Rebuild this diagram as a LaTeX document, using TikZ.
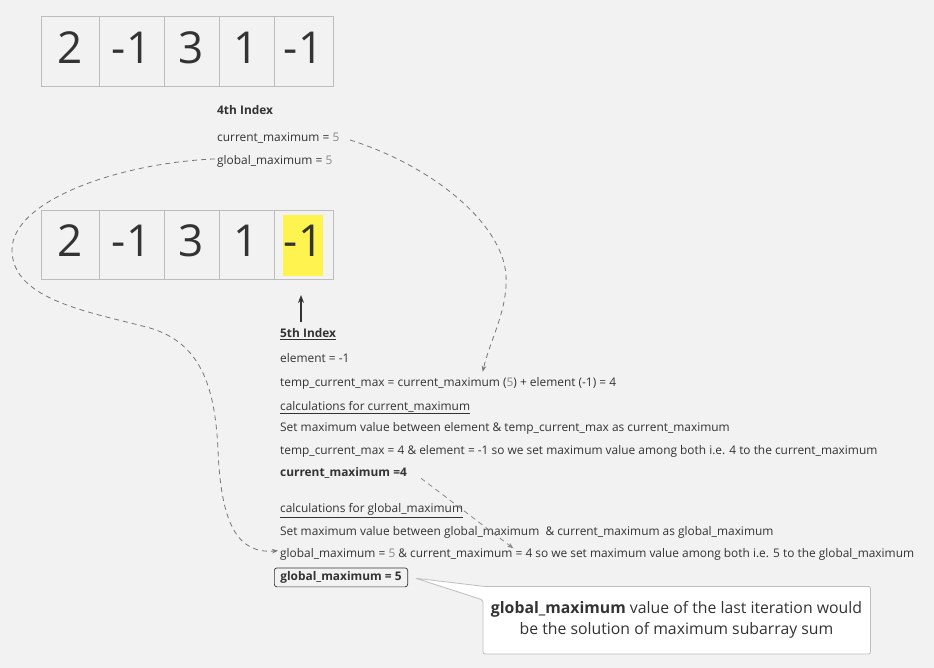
\documentclass[tikz,border=0pt]{standalone}
\usepackage{fontspec}
\setmainfont{Open Sans}
\usetikzlibrary{arrows.meta,calc}
\definecolor{bg}{HTML}{F2F2F2}
\definecolor{cellc}{HTML}{BDBDBD}
\definecolor{txtc}{HTML}{333333}
\definecolor{valc}{HTML}{888888}
\definecolor{dashc}{HTML}{777777}
\definecolor{hl}{HTML}{FFF44F}
\begin{document}
\begin{tikzpicture}[x=1pt,y=-1pt,
  cell/.style={draw=cellc, line width=0.9pt, inner sep=0pt, minimum height=#1, text depth=6pt, font=\fontsize{44}{50}\selectfont, text=txtc},
  cell/.default=70pt,
  txt/.style={anchor=base west, inner sep=0pt, font=\fontsize{11.9}{14}\selectfont, text=txtc},
  conn/.style={draw=dashc, line width=0.8pt, dash pattern=on 5pt off 4pt, -{Stealth[length=6pt,width=4.5pt]}},
  callout/.style={draw=cellc, fill=white, line width=0.8pt, rounded corners=2pt}
]
\useasboundingbox[fill=bg] (0,0) rectangle (934,668);
% top array
\node[cell, minimum width=58pt] (t1) at (70,51) {2};
\node[cell, minimum width=65pt] (t2) at (131.5,51) {-1};
\node[cell, minimum width=55pt] (t3) at (191.5,51) {3};
\node[cell, minimum width=55pt] (t4) at (246.5,51) {1};
\node[cell, minimum width=59pt] (t5) at (303.5,51) {-1};
% bottom array
\fill[hl] (283,215) rectangle (323,276);
\node[cell=69pt, minimum width=58pt, text depth=8pt] (b1) at (70,245) {2};
\node[cell=69pt, minimum width=65pt, text depth=8pt] (b2) at (131.5,245) {-1};
\node[cell=69pt, minimum width=55pt, text depth=8pt] (b3) at (191.5,245) {3};
\node[cell=69pt, minimum width=55pt, text depth=8pt] (b4) at (246.5,245) {1};
\node[cell=69pt, minimum width=59pt, text depth=8pt] (b5) at (303.5,245) {-1};
% 4th index block
\node[txt] (n4) at (217,115) {\textbf{4th Index}};
\node[txt] (cm5) at (217,141.7) {current\_maximum = {\color{valc}5}};
\node[txt] (gm5) at (217,165) {global\_maximum = {\color{valc}5}};
% 5th index block
\node[txt] (n5) at (280,337.7) {\textbf{\underline{5th Index}}};
\node[txt] (el) at (280,362.7) {element = -1};
\node[txt] (tcm) at (280,386) {temp\_current\_max = current\_maximum ({\color{valc}5}) + element (-1) = 4};
\node[txt] (ccm) at (280,410) {\underline{calculations for current\_maximum}};
\node[txt] (s1) at (280,431.7) {Set maximum value between element \& temp\_current\_max as current\_maximum};
\node[txt] (t41) at (280,454) {temp\_current\_max = 4 \& element = -1 so we set maximum value among both i.e. 4 to the current\_maximum};
\node[txt] (cm4) at (280,476) {\textbf{current\_maximum =4}};
\node[txt] (cgm) at (280,512.7) {\underline{calculations for global\_maximum}};
\node[txt] (s2) at (280,535) {Set maximum value between global\_maximum \ \& current\_maximum as global\_maximum};
\node[txt] (g5l) at (280,557.3) {global\_maximum = {\color{valc}5} \& current\_maximum = 4 so we set maximum value among both i.e. 5 to the global\_maximum};
\node[txt, draw=txtc, line width=0.7pt, rounded corners=2.5pt, inner xsep=6pt, inner ysep=3.5pt] (gbox) at (274,580.5) {\textbf{global\_maximum = 5}};
% callout
\coordinate (tip) at (416,578.3);
\path[callout] (tip) -- (485,586.5) -- (870.5,586.5) -- (870.5,654) -- (483,654) -- (483,600) -- cycle;
\node[font=\fontsize{15.8}{21}\selectfont, text=txtc, align=center, inner sep=0pt] (co) at (676.5,619.5) {\textbf{global\_maximum} value of the last iteration would\\be the solution of maximum subarray sum};
% arrow under highlighted cell
\coordinate (aup) at (301,322);
\coordinate (aupt) at (301,295);
\draw[txtc, line width=1.1pt, -{Stealth[length=8pt,width=6pt]}] (aup) -- (aupt);
% connectors
\coordinate (c1s) at (350,140);
\coordinate (c1e) at (482.7,371.7);
\draw[conn] (c1s) .. controls (430,165) and (502,222) .. (506,275) .. controls (508,310) and (490,340) .. (c1e);
\coordinate (c2s) at ($(gm5.west)+(-2,-3)$);
\coordinate (c2e) at ($(g5l.west)+(-2,-3.5)$);
\draw[conn] (c2s) .. controls (120,163) and (12,200) .. (12,250) .. controls (12,300) and (90,312) .. (150,328) .. controls (200,343) and (215,385) .. (218,450) .. controls (221,525) and (238,554) .. (c2e);
\coordinate (c3s) at (421,478.3);
\coordinate (c3e) at (513.3,548.3);
\draw[conn, draw=valc] (c3s) .. controls (450,500) and (485,527) .. (c3e);
\end{tikzpicture}
\end{document}
